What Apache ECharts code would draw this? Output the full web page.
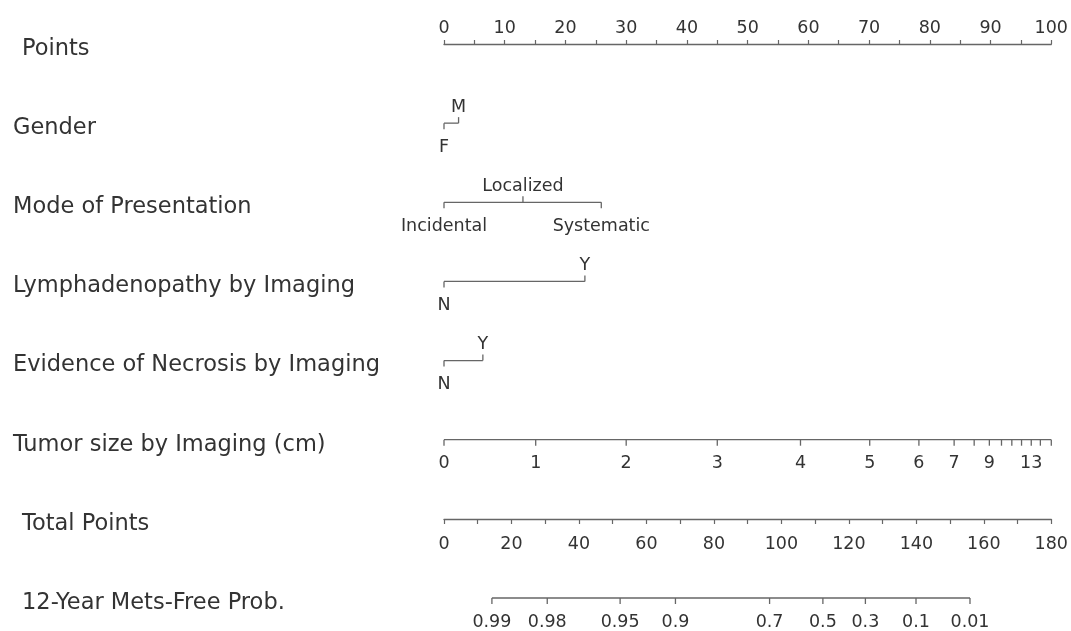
<!DOCTYPE html>
<html><head><meta charset="utf-8">
<script src="https://cdn.jsdelivr.net/npm/echarts/dist/echarts.min.js"></script>
<style>html,body{margin:0;padding:0;background:#fff}#c{width:1071px;height:631px}</style>
</head><body><div id="c"></div>
<script>
// ---------- data ----------
const rowNames = ['Points', 'Gender', 'Mode of Presentation', 'Lymphadenopathy by Imaging',
  'Evidence of Necrosis by Imaging', 'Tumor size by Imaging (cm)', 'Total Points', '12-Year Mets-Free Prob.'];

const genderLevels = ['F', 'M'];
const genderPoints = [0, 2.4];

const modeLevels = ['Incidental', 'Localized', 'Systematic'];
const modePoints = [0, 13.0, 25.9];

const lymphLevels = ['N', 'Y'];
const lymphPoints = [0, 23.2];

const necrosisLevels = ['N', 'Y'];
const necrosisPoints = [0, 6.4];

const tumorSizes = [0, 1, 2, 3, 4, 5, 6, 7, 8, 9, 10, 11, 12, 13, 14, 15];
const tumorPoints = [0, 15.1, 30.0, 45.0, 58.7, 70.1, 78.2, 84.0, 87.3, 89.8, 91.8, 93.5, 95.1, 96.7, 98.2, 100];
const tumorLabeledSizes = [0, 1, 2, 3, 4, 5, 6, 7, 9, 13];

const probLabels = ['0.99', '0.98', '0.95', '0.9', '0.7', '0.5', '0.3', '0.1', '0.01'];
const probTotalPoints = [14.2, 30.6, 52.2, 68.6, 96.5, 112.3, 124.9, 139.9, 155.9];

const pointsMin = 0, pointsMax = 100, pointsStep = 10;
const totalMin = 0, totalMax = 180, totalStep = 20;

// ---------- styles ----------
const FONT = 'DejaVu Sans';
const LINE = '#666';
const TEXT = '#333';
const AXIS_FS = 17.5;
const NAME_FS = 22.5;
const indentedRows = [0, 6, 7];
const ABOVE_DY = -16, BELOW_DY = 24;

function rowSeries(row, points, labels, xIdx, yIdx, alternate) {
  const maxP = Math.max.apply(null, points);
  return {
    type: 'custom', xAxisIndex: xIdx, yAxisIndex: yIdx, silent: true,
    data: points.map((p, i) => [p, row, i]),
    renderItem: function (params, api) {
      const i = api.value(2);
      const p = api.coord([api.value(0), api.value(1)]);
      const up = alternate && (i % 2 === 1);
      const ch = [];
      if (i === 0) {
        const e = api.coord([maxP, row]);
        ch.push({ type: 'line', shape: { x1: p[0], y1: p[1], x2: e[0], y2: e[1] },
          style: { stroke: LINE, lineWidth: 1.3 } });
      }
      ch.push({ type: 'line', shape: { x1: p[0], y1: p[1], x2: p[0], y2: p[1] + (up ? -6 : 6) },
        style: { stroke: LINE, lineWidth: 1.3 } });
      const lab = labels[i];
      if (lab) {
        ch.push({ type: 'text', style: { text: lab, x: p[0], y: p[1] + (up ? ABOVE_DY : BELOW_DY),
          align: 'center', verticalAlign: 'middle', fill: TEXT, fontSize: AXIS_FS, fontFamily: FONT } });
      }
      return { type: 'group', children: ch };
    }
  };
}

function nameFormatter(v) {
  const name = rowNames[v];
  return (indentedRows.indexOf(v) >= 0 ? '{ind|' : '{reg|') + name + '}';
}
const nameRich = {
  reg: { fontSize: NAME_FS, fontFamily: FONT, color: TEXT, padding: [10, 0, 0, 0] },
  ind: { fontSize: NAME_FS, fontFamily: FONT, color: TEXT, padding: [10, 0, 0, 9] }
};
function nameAxis(gridIndex, min, max) {
  return {
    gridIndex: gridIndex, type: 'value', min: min, max: max, interval: 1, inverse: true,
    axisLine: { show: false }, axisTick: { show: false }, splitLine: { show: false },
    axisLabel: { align: 'left', margin: 431, formatter: nameFormatter, rich: nameRich }
  };
}

const tumorLabels = tumorSizes.map(s => tumorLabeledSizes.indexOf(s) >= 0 ? String(s) : '');

const option = {
  backgroundColor: '#fff',
  animation: false,
  grid: [
    { left: 444, right: 18, top: 44, bottom: 191.3 },
    { left: 444, right: 18, top: 519, bottom: 33 }
  ],
  xAxis: [
    { gridIndex: 0, type: 'value', position: 'top', min: pointsMin, max: pointsMax, interval: pointsStep,
      axisLine: { show: true, lineStyle: { color: LINE, width: 1.3 } },
      axisTick: { show: true, length: 4, lineStyle: { color: LINE, width: 1.2 } },
      minorTick: { show: true, splitNumber: 2, length: 4, lineStyle: { color: LINE, width: 1.2 } },
      splitLine: { show: false },
      axisLabel: { margin: 7, color: TEXT, fontSize: AXIS_FS, fontFamily: FONT } },
    { gridIndex: 1, type: 'value', position: 'top', min: totalMin, max: totalMax, interval: totalStep,
      axisLine: { show: true, lineStyle: { color: LINE, width: 1.3 } },
      axisTick: { show: true, inside: true, length: 5, lineStyle: { color: LINE, width: 1.2 } },
      minorTick: { show: true, splitNumber: 2, length: 5, lineStyle: { color: LINE, width: 1.2 } },
      splitLine: { show: false },
      axisLabel: { inside: true, margin: 16, color: TEXT, fontSize: AXIS_FS, fontFamily: FONT } }
  ],
  yAxis: [nameAxis(0, 0, 5), nameAxis(1, 6, 7)],
  series: [
    rowSeries(1, genderPoints, genderLevels, 0, 0, true),
    rowSeries(2, modePoints, modeLevels, 0, 0, true),
    rowSeries(3, lymphPoints, lymphLevels, 0, 0, true),
    rowSeries(4, necrosisPoints, necrosisLevels, 0, 0, true),
    rowSeries(5, tumorPoints, tumorLabels, 0, 0, false),
    rowSeries(7, probTotalPoints, probLabels, 1, 1, false)
  ]
};

const chart = echarts.init(document.getElementById('c'), null, { renderer: 'canvas' });
chart.setOption(option);
</script>
</body></html>
